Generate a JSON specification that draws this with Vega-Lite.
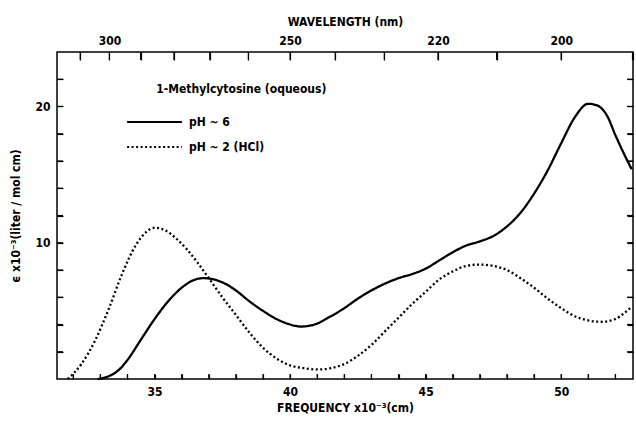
{
  "$schema": "https://vega.github.io/schema/vega-lite/v6.json",
  "width": 576,
  "height": 327,
  "autosize": {"type": "none"},
  "padding": {"left": 57, "top": 52, "right": 3, "bottom": 42},
  "background": "white",
  "config": {
    "view": {"stroke": "black", "strokeWidth": 1.5},
    "font": "DejaVu Sans Condensed",
    "axis": {
      "zindex": 1,
      "grid": false,
      "domain": false,
      "ticks": true,
      "tickColor": "black",
      "tickWidth": 1.2,
      "labelColor": "black",
      "titleColor": "black",
      "labelFont": "DejaVu Sans Condensed",
      "titleFont": "DejaVu Sans Condensed",
      "labelFontWeight": "bold",
      "titleFontWeight": "bold",
      "labelFontSize": 12,
      "titleFontSize": 12
    },
    "legend": {
      "labelFont": "DejaVu Sans Condensed",
      "labelFontWeight": "bold",
      "labelFontSize": 12,
      "labelColor": "black"
    }
  },
  "datasets": {
    "bottomTicks": [{"f": 32}, {"f": 33}, {"f": 34}, {"f": 35}, {"f": 36}, {"f": 37}, {"f": 38}, {"f": 39}, {"f": 40}, {"f": 41}, {"f": 42}, {"f": 43}, {"f": 44}, {"f": 45}, {"f": 46}, {"f": 47}, {"f": 48}, {"f": 49}, {"f": 50}, {"f": 51}, {"f": 52}],
    "topTicks": [{"f": 32.258}, {"f": 33.333}, {"f": 34.483}, {"f": 35.714}, {"f": 37.037}, {"f": 38.462}, {"f": 40}, {"f": 41.667}, {"f": 43.478}, {"f": 45.455}, {"f": 47.619}, {"f": 50}, {"f": 52.632}],
    "sideTicks": [{"e": 2}, {"e": 4}, {"e": 6}, {"e": 8}, {"e": 10}, {"e": 12}, {"e": 14}, {"e": 16}, {"e": 18}, {"e": 20}, {"e": 22}]
  },
  "data": {
    "values": [
      {"s": "pH ~ 6", "f": 32.9, "e": 0.0},
      {"s": "pH ~ 6", "f": 33.3, "e": 0.2},
      {"s": "pH ~ 6", "f": 33.7, "e": 0.7},
      {"s": "pH ~ 6", "f": 34.0, "e": 1.4},
      {"s": "pH ~ 6", "f": 34.5, "e": 2.9},
      {"s": "pH ~ 6", "f": 35.0, "e": 4.4},
      {"s": "pH ~ 6", "f": 35.5, "e": 5.7},
      {"s": "pH ~ 6", "f": 36.0, "e": 6.7},
      {"s": "pH ~ 6", "f": 36.5, "e": 7.3},
      {"s": "pH ~ 6", "f": 36.8, "e": 7.4},
      {"s": "pH ~ 6", "f": 37.2, "e": 7.3},
      {"s": "pH ~ 6", "f": 37.6, "e": 7.0},
      {"s": "pH ~ 6", "f": 38.0, "e": 6.5},
      {"s": "pH ~ 6", "f": 38.5, "e": 5.7},
      {"s": "pH ~ 6", "f": 39.0, "e": 5.0},
      {"s": "pH ~ 6", "f": 39.5, "e": 4.4},
      {"s": "pH ~ 6", "f": 40.0, "e": 4.0},
      {"s": "pH ~ 6", "f": 40.4, "e": 3.85},
      {"s": "pH ~ 6", "f": 40.9, "e": 4.0},
      {"s": "pH ~ 6", "f": 41.5, "e": 4.6},
      {"s": "pH ~ 6", "f": 42.0, "e": 5.2},
      {"s": "pH ~ 6", "f": 42.5, "e": 5.9},
      {"s": "pH ~ 6", "f": 43.0, "e": 6.5},
      {"s": "pH ~ 6", "f": 43.5, "e": 7.0},
      {"s": "pH ~ 6", "f": 44.0, "e": 7.4},
      {"s": "pH ~ 6", "f": 44.5, "e": 7.7},
      {"s": "pH ~ 6", "f": 45.0, "e": 8.1},
      {"s": "pH ~ 6", "f": 45.5, "e": 8.7},
      {"s": "pH ~ 6", "f": 46.0, "e": 9.3},
      {"s": "pH ~ 6", "f": 46.5, "e": 9.8},
      {"s": "pH ~ 6", "f": 47.0, "e": 10.1},
      {"s": "pH ~ 6", "f": 47.5, "e": 10.5},
      {"s": "pH ~ 6", "f": 48.0, "e": 11.2},
      {"s": "pH ~ 6", "f": 48.5, "e": 12.2},
      {"s": "pH ~ 6", "f": 49.0, "e": 13.6},
      {"s": "pH ~ 6", "f": 49.5, "e": 15.3},
      {"s": "pH ~ 6", "f": 50.0, "e": 17.3},
      {"s": "pH ~ 6", "f": 50.5, "e": 19.2},
      {"s": "pH ~ 6", "f": 51.0, "e": 20.2},
      {"s": "pH ~ 6", "f": 51.3, "e": 20.1},
      {"s": "pH ~ 6", "f": 51.7, "e": 19.3},
      {"s": "pH ~ 6", "f": 52.0, "e": 17.9},
      {"s": "pH ~ 6", "f": 52.3, "e": 16.6},
      {"s": "pH ~ 6", "f": 52.6, "e": 15.4},
      {"s": "pH ~ 2 (HCl)", "f": 31.8, "e": 0.0},
      {"s": "pH ~ 2 (HCl)", "f": 32.3, "e": 1.1},
      {"s": "pH ~ 2 (HCl)", "f": 32.8, "e": 2.8},
      {"s": "pH ~ 2 (HCl)", "f": 33.3, "e": 5.1},
      {"s": "pH ~ 2 (HCl)", "f": 33.8, "e": 7.7},
      {"s": "pH ~ 2 (HCl)", "f": 34.3, "e": 9.8},
      {"s": "pH ~ 2 (HCl)", "f": 34.7, "e": 10.8},
      {"s": "pH ~ 2 (HCl)", "f": 35.0, "e": 11.1},
      {"s": "pH ~ 2 (HCl)", "f": 35.4, "e": 10.9},
      {"s": "pH ~ 2 (HCl)", "f": 35.8, "e": 10.3},
      {"s": "pH ~ 2 (HCl)", "f": 36.2, "e": 9.5},
      {"s": "pH ~ 2 (HCl)", "f": 36.6, "e": 8.5},
      {"s": "pH ~ 2 (HCl)", "f": 37.0, "e": 7.4},
      {"s": "pH ~ 2 (HCl)", "f": 37.5, "e": 6.0},
      {"s": "pH ~ 2 (HCl)", "f": 38.0, "e": 4.7},
      {"s": "pH ~ 2 (HCl)", "f": 38.5, "e": 3.4},
      {"s": "pH ~ 2 (HCl)", "f": 39.0, "e": 2.3},
      {"s": "pH ~ 2 (HCl)", "f": 39.5, "e": 1.5},
      {"s": "pH ~ 2 (HCl)", "f": 40.0, "e": 1.0},
      {"s": "pH ~ 2 (HCl)", "f": 40.5, "e": 0.8},
      {"s": "pH ~ 2 (HCl)", "f": 41.0, "e": 0.7},
      {"s": "pH ~ 2 (HCl)", "f": 41.5, "e": 0.8},
      {"s": "pH ~ 2 (HCl)", "f": 42.0, "e": 1.1},
      {"s": "pH ~ 2 (HCl)", "f": 42.5, "e": 1.7},
      {"s": "pH ~ 2 (HCl)", "f": 43.0, "e": 2.5},
      {"s": "pH ~ 2 (HCl)", "f": 43.5, "e": 3.5},
      {"s": "pH ~ 2 (HCl)", "f": 44.0, "e": 4.5},
      {"s": "pH ~ 2 (HCl)", "f": 44.5, "e": 5.5},
      {"s": "pH ~ 2 (HCl)", "f": 45.0, "e": 6.4},
      {"s": "pH ~ 2 (HCl)", "f": 45.5, "e": 7.3},
      {"s": "pH ~ 2 (HCl)", "f": 46.0, "e": 7.9},
      {"s": "pH ~ 2 (HCl)", "f": 46.5, "e": 8.3},
      {"s": "pH ~ 2 (HCl)", "f": 47.0, "e": 8.4},
      {"s": "pH ~ 2 (HCl)", "f": 47.5, "e": 8.3},
      {"s": "pH ~ 2 (HCl)", "f": 48.0, "e": 8.0},
      {"s": "pH ~ 2 (HCl)", "f": 48.5, "e": 7.4},
      {"s": "pH ~ 2 (HCl)", "f": 49.0, "e": 6.7},
      {"s": "pH ~ 2 (HCl)", "f": 49.5, "e": 5.9},
      {"s": "pH ~ 2 (HCl)", "f": 50.0, "e": 5.2},
      {"s": "pH ~ 2 (HCl)", "f": 50.5, "e": 4.6},
      {"s": "pH ~ 2 (HCl)", "f": 51.0, "e": 4.3},
      {"s": "pH ~ 2 (HCl)", "f": 51.5, "e": 4.2},
      {"s": "pH ~ 2 (HCl)", "f": 52.0, "e": 4.4},
      {"s": "pH ~ 2 (HCl)", "f": 52.3, "e": 4.8},
      {"s": "pH ~ 2 (HCl)", "f": 52.6, "e": 5.3}
    ]
  },
  "layer": [
    {
      "mark": {"type": "line", "color": "black", "interpolate": "monotone", "strokeWidth": 2.3},
      "encoding": {
        "x": {
          "field": "f", "type": "quantitative",
          "scale": {"domain": [31.4, 52.65], "nice": false, "zero": false},
          "axis": {
            "orient": "bottom",
            "values": [32, 33, 34, 35, 36, 37, 38, 39, 40, 41, 42, 43, 44, 45, 46, 47, 48, 49, 50, 51, 52],
            "labelExpr": "datum.value % 5 === 0 ? datum.label : ''",
            "labelOverlap": false,
            "offset": -5,
            "tickSize": 5,
            "labelPadding": 7,
            "title": "FREQUENCY x10⁻³(cm)",
            "titlePadding": 5
          }
        },
        "y": {
          "field": "e", "type": "quantitative",
          "scale": {"domain": [0, 24], "nice": false, "zero": true},
          "axis": {
            "orient": "left",
            "values": [2, 4, 6, 8, 10, 12, 14, 16, 18, 20, 22],
            "labelExpr": "datum.value % 10 === 0 ? datum.label : ''",
            "labelOverlap": false,
            "offset": -6,
            "tickSize": 6,
            "labelPadding": 7,
            "title": "ϵ x10⁻³(liter / mol cm)",
            "titlePadding": 12
          }
        },
        "strokeDash": {
          "field": "s", "type": "nominal",
          "scale": {"domain": ["pH ~ 6", "pH ~ 2 (HCl)"], "range": [[1, 0], [2, 2.5]]},
          "legend": {
            "title": null,
            "orient": "none",
            "legendX": 69,
            "legendY": 63,
            "symbolType": "stroke",
            "symbolSize": 3000,
            "symbolStrokeWidth": 2,
            "symbolStrokeColor": "black",
            "labelOffset": 6,
            "clipHeight": 14,
            "rowPadding": 11
          }
        }
      }
    },
    {
      "mark": {"type": "line", "opacity": 0},
      "encoding": {
        "x": {
          "field": "f", "type": "quantitative",
          "axis": {
            "orient": "top",
            "values": [32.258, 33.333, 34.483, 35.714, 37.037, 38.462, 40, 41.667, 43.478, 45.455, 47.619, 50, 52.632],
            "labelExpr": "indexof([300, 250, 220, 200], round(10000 / datum.value)) >= 0 ? '' + round(10000 / datum.value) : ''",
            "labelOverlap": false,
            "offset": -8,
            "tickSize": 8,
            "labelPadding": 5,
            "title": "WAVELENGTH (nm)",
            "titlePadding": 6
          }
        },
        "y": {
          "field": "e", "type": "quantitative",
          "axis": {
            "orient": "right",
            "values": [2, 4, 6, 8, 10, 12, 14, 16, 18, 20, 22],
            "labels": false,
            "offset": -6,
            "tickSize": 6,
            "title": null
          }
        }
      }
    },
    {
      "data": {"name": "bottomTicks"},
      "mark": {"type": "tick", "orient": "vertical", "clip": true, "color": "black", "thickness": 1.2, "size": 10, "opacity": 1},
      "encoding": {
        "x": {"field": "f", "type": "quantitative", "axis": null},
        "y": {"datum": 0, "axis": null}
      }
    },
    {
      "data": {"name": "topTicks"},
      "mark": {"type": "tick", "orient": "vertical", "clip": true, "color": "black", "thickness": 1.2, "size": 16, "opacity": 1},
      "encoding": {
        "x": {"field": "f", "type": "quantitative", "axis": null},
        "y": {"datum": 24, "axis": null}
      }
    },
    {
      "data": {"name": "sideTicks"},
      "mark": {"type": "tick", "orient": "horizontal", "clip": true, "color": "black", "thickness": 1.2, "size": 12, "opacity": 1},
      "encoding": {
        "x": {"datum": 31.4, "axis": null},
        "y": {"field": "e", "type": "quantitative", "axis": null}
      }
    },
    {
      "data": {"name": "sideTicks"},
      "mark": {"type": "tick", "orient": "horizontal", "clip": true, "color": "black", "thickness": 1.2, "size": 12, "opacity": 1},
      "encoding": {
        "x": {"datum": 52.65, "axis": null},
        "y": {"field": "e", "type": "quantitative", "axis": null}
      }
    },
    {
      "data": {"values": [{"label": "1-Methylcytosine (oqueous)"}]},
      "mark": {"type": "text", "font": "DejaVu Sans Condensed", "fontWeight": "bold", "fontSize": 12, "fill": "black", "align": "center"},
      "encoding": {
        "x": {"datum": 38.2, "axis": null},
        "y": {"datum": 21.3, "axis": null},
        "text": {"field": "label"}
      }
    }
  ],
  "resolve": {"axis": {"x": "independent", "y": "independent"}}
}
